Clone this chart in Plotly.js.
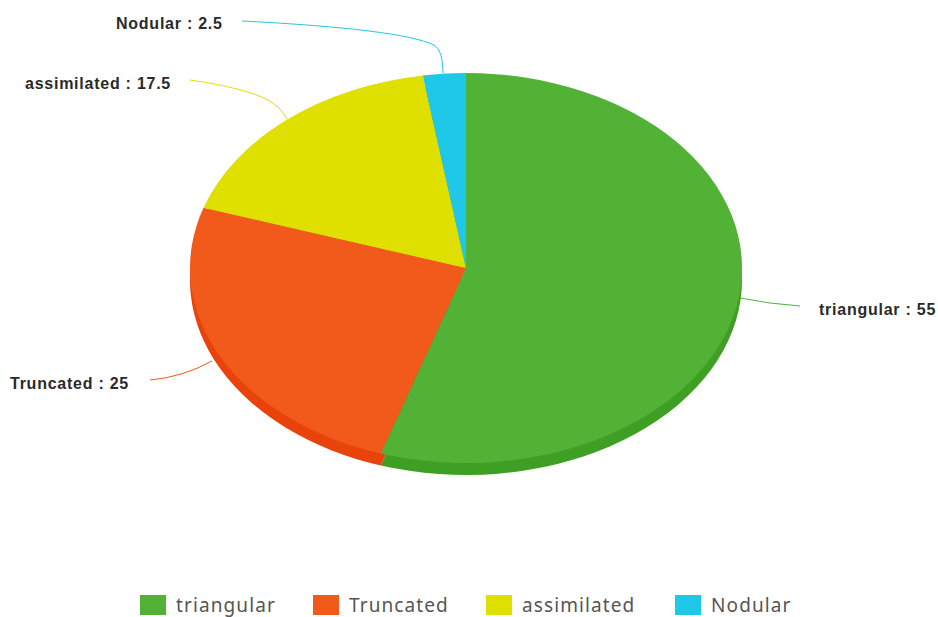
<!DOCTYPE html>
<html>
<head>
<meta charset="utf-8">
<script src="https://cdn.plot.ly/plotly-3.0.1.min.js"></script>
<style>
html,body{margin:0;padding:0;background:#fff}
#chart{width:938px;height:617px}
.legendtext{letter-spacing:1.1px}
.annotation-text{letter-spacing:0.75px}
</style>
</head>
<body>
<div id="chart"></div>
<script>
const categories = ["triangular", "Truncated", "assimilated", "Nodular"];
const values = [55, 25, 17.5, 2.5];
const faceColors = ["#52b236", "#f15a1b", "#e0e000", "#1fc8e8"];
const edgeColors = ["#3f9f24", "#e8430a", "#c4c400", "#16a8c8"];
const W = 938, H = 617;
const cx = 466, cy = 268, rx = 276, ry = 195, depth = 12;
const squash = ry / rx;
const d = 2 * rx;

function base(extra) {
  return Object.assign({
    type: "pie", labels: categories, values: values, sort: false,
    direction: "clockwise", rotation: 0, textinfo: "none", hoverinfo: "label+value"
  }, extra);
}
const domainX = [(cx - rx) / W, (cx + rx) / W];
const traces = [
  base({ marker: { colors: edgeColors, line: { width: 0 } }, showlegend: false,
         domain: { x: domainX, y: [1 - (d + depth / squash) / H, 1 - (depth / squash) / H] } }),
  base({ marker: { colors: faceColors, line: { width: 0 } },
         domain: { x: domainX, y: [1 - d / H, 1] } })
];

const labelTexts = categories.map((c, i) => c + " : " + values[i]);
const labelPos = [[937, 309], [130, 383], [172, 84], [224, 24]];
const annotations = labelTexts.map((t, i) => ({
  text: "<b>" + t + "</b>", showarrow: false, xref: "paper", yref: "paper",
  x: labelPos[i][0] / W, y: 1 - labelPos[i][1] / H, xanchor: "right", yanchor: "middle",
  font: { family: "Liberation Sans", size: 16, color: "#2a2a2a" }, borderpad: 0
}));

const leaderPaths = [
  [[800, 306], [770, 304], [740, 298]],
  [[150, 380], [183, 377], [212, 361]],
  [[190, 80], [245, 88], [268, 100], [280, 106], [287, 119]],
  [[242, 21], [400, 29], [434, 45], [443, 50], [443, 73]]
];
const shapes = leaderPaths.map((p, i) => {
  const q = p.map(a => (a[0] / W) + "," + (1 - a[1] / H));
  let path = "M" + q[0];
  for (let k = 1; k + 1 < q.length; k += 2) path += " Q" + q[k] + " " + q[k + 1];
  return { type: "path", xref: "paper", yref: "paper", path,
    line: { color: faceColors[i], width: 1 }, layer: "above" };
});

const layout = {
  width: W, height: H, margin: { l: 0, r: 0, t: 0, b: 0 }, paper_bgcolor: "#fff",
  annotations, shapes,
  legend: { orientation: "h", x: 0.5, xanchor: "center", y: 0, yanchor: "bottom",
    font: { family: "Noto Sans", size: 19, color: "#555" }, itemwidth: 30,
    entrywidth: 140, entrywidthmode: "pixels", traceorder: "normal" }
};

const legendLeft = [140, 313, 486, 675];
const legendMidY = 605;

function afterDraw(gd) {
  const pl = gd.querySelector(".pielayer");
  if (pl) pl.setAttribute("transform",
    `translate(0,${cy}) scale(1,${squash}) translate(0,${-d / 2})`);
  gd.querySelectorAll(".legend .scrollbox, .legend .legendtoggle").forEach(e => e.removeAttribute("clip-path"));
  const host = gd.getBoundingClientRect();
  gd.querySelectorAll(".legend .traces").forEach((t, i) => {
    const pt = t.querySelector(".legendpoints path");
    pt.setAttribute("transform", "translate(15,0) scale(2.17,1.67)");
    const txt = t.querySelector(".legendtext");
    if (txt) txt.setAttribute("x", (+txt.getAttribute("x") || 0) - 2);
    const m = (t.getAttribute("transform") || "").match(/translate\(([-\d.]+)[ ,]*([-\d.]*)/);
    const tx = m ? +m[1] : 0, ty = m && m[2] ? +m[2] : 0;
    const b = pt.getBoundingClientRect();
    const dx = legendLeft[i] - (b.left - host.left);
    const dy = legendMidY - (b.top + b.height / 2 - host.top);
    t.setAttribute("transform", `translate(${tx + dx},${ty + dy})`);
  });
}
Plotly.newPlot("chart", traces, layout, { displayModeBar: false }).then(gd => {
  afterDraw(gd);
});
</script>
</body>
</html>
